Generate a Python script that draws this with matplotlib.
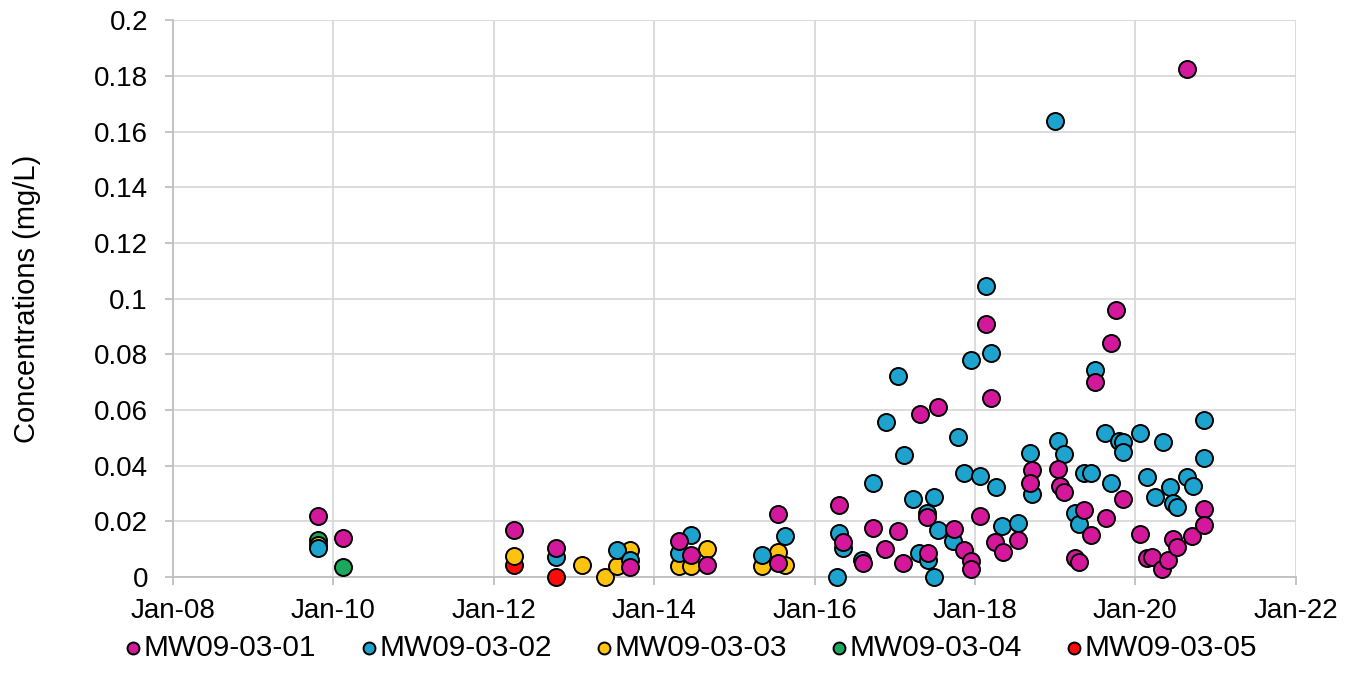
import numpy as np
import pandas as pd
import matplotlib
matplotlib.use("Agg")
import matplotlib.pyplot as plt
import matplotlib.dates as mdates

plt.rcParams['font.family'] = ['Liberation Sans', 'DejaVu Sans']

# sample dates as decimal years, concentrations in mg/L
mw01_t = [2009.80, 2010.12, 2012.25, 2012.78, 2013.69, 2014.31, 2014.46, 2014.66, 2015.54, 2015.54,
          2016.30, 2016.36, 2016.60, 2016.73, 2016.88, 2017.04, 2017.10, 2017.31, 2017.41, 2017.40,
          2017.54, 2017.73, 2017.86, 2017.95, 2017.95, 2018.06, 2018.13, 2018.20, 2018.25, 2018.35,
          2018.54, 2018.71, 2018.68, 2019.03, 2019.06, 2019.11, 2019.24, 2019.30, 2019.36, 2019.44,
          2019.50, 2019.63, 2019.69, 2019.76, 2019.85, 2020.06, 2020.15, 2020.21, 2020.33, 2020.41,
          2020.47, 2020.52, 2020.64, 2020.71, 2020.85, 2020.86]
mw01_c = [0.022, 0.014, 0.017, 0.0105, 0.0036, 0.013, 0.0079, 0.0043, 0.0226, 0.005,
          0.026, 0.0126, 0.005, 0.0176, 0.010, 0.0165, 0.005, 0.0585, 0.0086, 0.0215,
          0.061, 0.0172, 0.0097, 0.0057, 0.0029, 0.022, 0.091, 0.0643, 0.0126, 0.009,
          0.0133, 0.0384, 0.0337, 0.0388, 0.0327, 0.0305, 0.0068, 0.0054, 0.024, 0.0151,
          0.070, 0.0212, 0.084, 0.096, 0.028, 0.0154, 0.0068, 0.0072, 0.0029, 0.006,
          0.0136, 0.0108, 0.1824, 0.0147, 0.0244, 0.0187]

mw02_t = [2009.80, 2012.78, 2013.53, 2013.69, 2014.31, 2014.46, 2015.34, 2015.63, 2016.28, 2016.30,
          2016.36, 2016.59, 2016.73, 2016.89, 2017.04, 2017.11, 2017.23, 2017.30, 2017.40, 2017.41,
          2017.49, 2017.49, 2017.54, 2017.72, 2017.78, 2017.86, 2017.95, 2018.06, 2018.13, 2018.20,
          2018.26, 2018.34, 2018.54, 2018.68, 2018.71, 2018.99, 2019.03, 2019.11, 2019.24, 2019.30,
          2019.36, 2019.44, 2019.50, 2019.62, 2019.69, 2019.80, 2019.85, 2019.85, 2020.06, 2020.15,
          2020.24, 2020.34, 2020.43, 2020.47, 2020.52, 2020.64, 2020.72, 2020.85, 2020.86]
mw02_c = [0.0105, 0.0072, 0.0097, 0.006, 0.0086, 0.015, 0.0079, 0.0147, 0.0, 0.0158,
          0.0104, 0.006, 0.0337, 0.0557, 0.0722, 0.0438, 0.028, 0.0086, 0.023, 0.006,
          0.0287, 0.0, 0.0169, 0.0129, 0.0503, 0.0373, 0.078, 0.0363, 0.1045, 0.0804,
          0.0323, 0.0183, 0.0194, 0.0445, 0.0298, 0.1637, 0.049, 0.044, 0.023, 0.019,
          0.0373, 0.0373, 0.0743, 0.0517, 0.0337, 0.049, 0.0485, 0.045, 0.0517, 0.036,
          0.0287, 0.0485, 0.0323, 0.0266, 0.0251, 0.036, 0.0327, 0.0564, 0.0427]

mw03_t = [2009.80, 2012.25, 2013.10, 2013.38, 2013.53, 2013.69, 2014.31, 2014.46, 2014.66, 2015.34,
          2015.54, 2015.63]
mw03_c = [0.0115, 0.0075, 0.0043, 0.0, 0.004, 0.0097, 0.004, 0.004, 0.010, 0.004,
          0.009, 0.0043]

mw04_t = [2009.80, 2010.12]
mw04_c = [0.0133, 0.0036]

mw05_t = [2012.25, 2012.78]
mw05_c = [0.0043, 0.0]

labels = ['MW09-03-01', 'MW09-03-02', 'MW09-03-03', 'MW09-03-04', 'MW09-03-05']
colors = ['#D4189C', '#1EA3CF', '#FFC20E', '#1CA85C', '#FF0A0A']


def to_date(years):
    years = np.asarray(years)
    whole = np.floor(years).astype(int)
    start = pd.to_datetime([f"{y}-01-01" for y in whole])
    return start + pd.to_timedelta((years - whole) * 365.25, unit='D')


fig = plt.figure(figsize=(13.62, 6.96), dpi=100)
ax = fig.add_axes([0.127, 0.171, 0.8245, 0.800])

series = [(mw01_t, mw01_c), (mw02_t, mw02_c), (mw03_t, mw03_c), (mw04_t, mw04_c), (mw05_t, mw05_c)]
# draw in reverse so MW09-03-01 sits on top like the original
for i in [4, 3, 2, 1, 0]:
    t, c = series[i]
    ax.scatter(to_date(t), c, s=150, color=colors[i], edgecolors='black', linewidths=1.4,
               label=labels[i], zorder=3, clip_on=False)

ax.set_xlim(pd.Timestamp('2008-01-01'), pd.Timestamp('2022-01-01'))
ax.set_ylim(0, 0.2)
ax.set_yticks(np.arange(0, 0.201, 0.02))
ax.set_yticklabels(['0', '0.02', '0.04', '0.06', '0.08', '0.1', '0.12', '0.14', '0.16', '0.18', '0.2'])
ax.xaxis.set_major_locator(mdates.YearLocator(2))
ax.xaxis.set_major_formatter(mdates.DateFormatter('%b-%y'))

ax.grid(True, color='#D9D9D9', linewidth=1.3)
ax.set_axisbelow(True)
for side in ['top', 'right']:
    ax.spines[side].set_visible(False)
for side in ['left', 'bottom']:
    ax.spines[side].set_color('#BFBFBF')
    ax.spines[side].set_linewidth(1.3)
ax.tick_params(axis='both', length=6, width=1.3, color='#BFBFBF', labelsize=20)
ax.tick_params(axis='x', pad=9)
ax.tick_params(axis='y', pad=12)
ax.set_ylabel('Concentrations (mg/L)', fontsize=21, labelpad=38)

handles, labs = ax.get_legend_handles_labels()
order = [labs.index(l) for l in labels]
fig.legend([handles[k] for k in order], labels, loc='center', ncol=5,
           bbox_to_anchor=(0.5066, 0.069), frameon=False, fontsize=21.5, markerscale=0.7,
           handletextpad=0.0, columnspacing=1.4, handlelength=0.7, borderpad=0)

fig.savefig('out.png', dpi=100)
